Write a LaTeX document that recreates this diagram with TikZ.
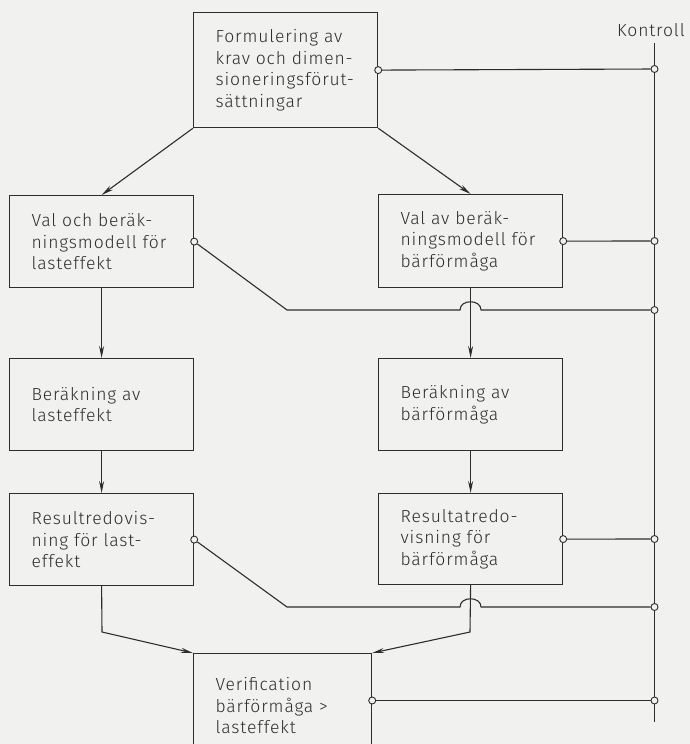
\documentclass[tikz,border=0pt]{standalone}
\usepackage{fontspec}
\setmainfont{Fira Sans}[UprightFont=* Light, LetterSpace=5]
\usetikzlibrary{arrows.meta}
\definecolor{paper}{RGB}{241,241,239}
\definecolor{ink}{RGB}{45,45,45}
\newcommand\textrow[1]{\mbox{#1}}
\begin{document}
\begin{tikzpicture}[x=1pt,y=-1pt,
  box/.style={draw=ink, line width=1.2pt, rectangle, anchor=north west,
    inner xsep=22pt, inner ysep=0pt, text width=140pt, align=left,
    font=\fontsize{17.5}{21.5}\selectfont, text=ink},
  link/.style={draw=ink, line width=1.1pt},
  flow/.style={link, -{Stealth[length=12pt,width=5pt]}},
  tap/.style={circle, draw=ink, line width=0.9pt, fill=paper,
    minimum size=7pt, inner sep=0pt},
]
% sheet
\fill[paper] (0,0) rectangle (690,744);
\clip (0,0) rectangle (690,744);

% process boxes
\node[box, minimum height=115pt] (top) at (193,12)
  {\textrow{Formulering av}\\ \textrow{krav och dimen-}\\ \textrow{sioneringsförut-}\\ \textrow{sättningar}};
\node[box, minimum height=92pt] (valL) at (9,195)
  {\textrow{Val och beräk-}\\ \textrow{ningsmodell för}\\ \textrow{lasteffekt}};
\node[box, minimum height=93pt] (valR) at (378,194)
  {\textrow{Val av beräk-}\\ \textrow{ningsmodell för}\\ \textrow{bärförmåga}};
\node[box, minimum height=92pt] (berL) at (9,358)
  {\textrow{Beräkning av}\\ \textrow{lasteffekt}};
\node[box, minimum height=92pt] (berR) at (378,358)
  {\textrow{Beräkning av}\\ \textrow{bärförmåga}};
\node[box, minimum height=92pt] (resL) at (9,493)
  {\textrow{Resultredovis-}\\ \textrow{ning för last-}\\ \textrow{effekt}};
\node[box, minimum height=91pt] (resR) at (378,493)
  {\textrow{Resultatredo-}\\ \textrow{visning för}\\ \textrow{bärförmåga}};
\node[box, text width=134pt, minimum height=104pt] (verif) at (193,653)
  {\textrow{Verification}\\ \textrow{bärförmåga >}\\ \textrow{lasteffekt}};

% control line
\node[font=\fontsize{17.5}{20}\selectfont, text=ink, inner sep=0pt] (kontroll) at (651,30) {Kontroll};
\coordinate (kStart) at (654.5,43);
\coordinate (kEnd) at (654.5,722);
\draw[link] (kStart) -- (kEnd);

% taps on the control line
\node[tap] (k1) at (654.5,69) {};
\node[tap] (k2) at (654.5,241) {};
\node[tap] (k3) at (654.5,310) {};
\node[tap] (k4) at (654.5,539) {};
\node[tap] (k5) at (654.5,607) {};
\node[tap] (k6) at (654.5,700.5) {};

% taps on the boxes
\node[tap] (t1) at (top.east) {};
\node[tap] (t2) at (valL.east) {};
\node[tap] (t3) at (valR.east) {};
\node[tap] (t4) at (resL.east) {};
\node[tap] (t5) at (resR.east) {};
\node[tap] (t6) at (verif.east |- k6) {};

% bends
\coordinate (bA) at (287,310);
\coordinate (bB) at (287,607);
\coordinate (bC) at (102,632);
\coordinate (bD) at (470,632);

% control connections
\draw[link] (t1) -- (k1);
\draw[link] (t3) -- (k2);
\draw[link] (t5) -- (k4);
\draw[link] (t6) -- (k6);
\draw[link] (t2) -- (bA) -- (460,310) .. controls (460,299) and (481,299) .. (481,310) -- (k3);
\draw[link] (t4) -- (bB) -- (460,607) .. controls (460,596) and (481,596) .. (481,607) -- (k5);

% process flow
\draw[flow] (top.south west) -- (valL.north);
\draw[flow] (top.south east) -- (valR.north);
\draw[flow] (valL.south) -- (berL.north);
\draw[flow] (valR.south) -- (berR.north);
\draw[flow] (berL.south) -- (resL.north);
\draw[flow] (berR.south) -- (resR.north);
\draw[flow] (resL.south) -- (bC) -- (verif.north west);
\draw[flow] (resR.south) -- (bD) -- (verif.north east);
\end{tikzpicture}
\end{document}
